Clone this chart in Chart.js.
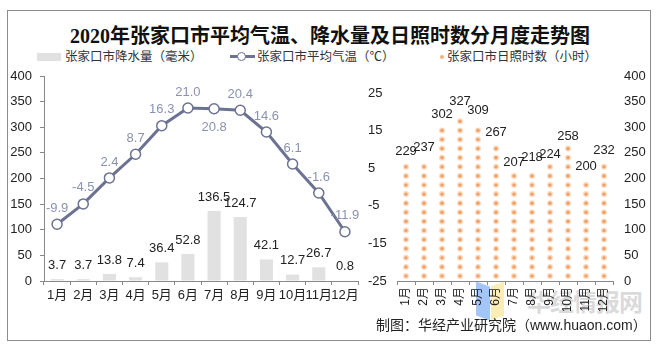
<!DOCTYPE html>
<html>
<head>
<meta charset="utf-8">
<script src="https://cdn.jsdelivr.net/npm/chart.js@4.4.1/dist/chart.umd.min.js"></script>
<style>
    body { margin: 0; background: #fff; }
    #quadro { position: relative; width: 660px; height: 349px; overflow: hidden;
              font-family: "Liberation Sans", "Noto Sans CJK SC", sans-serif; color: #222; }
    #moldura { position: absolute; left: 7px; top: 10px; width: 642px; height: 329px; border: 1px solid #8c8c8c; }
    canvas { position: absolute; left: 0; top: 0; }
    #titulo { position: absolute; left: 0; top: 20px; width: 660px; text-align: center; line-height: 24px;
              font: bold 20px "Liberation Serif", "Noto Sans CJK SC", serif; color: #111; }
    .leg { position: absolute; top: 49px; font-size: 12.5px; line-height: 16px; color: #333; }
    #fonte { position: absolute; left: 376px; top: 316px; font-size: 14px; line-height: 18px; color: #222; }
    #marca { position: absolute; left: 527px; top: 283px; font: bold 24px "Noto Sans CJK SC", sans-serif;
             color: rgba(150,150,150,0.35); letter-spacing: -1px; }
</style>
</head>
<body>
<div id="quadro">
    <div id="moldura"></div>
    <div id="titulo">2020年张家口市平均气温、降水量及日照时数分月度走势图</div>

    <div style="position:absolute;left:37px;top:53px;width:24px;height:8px;background:#e1e1e1"></div>
    <div class="leg" style="left:65px">张家口市降水量（毫米）</div>
    <div style="position:absolute;left:230px;top:55px;width:25px;height:3px;background:#6b7292"></div>
    <div style="position:absolute;left:237px;top:52px;width:7px;height:7px;border:1.5px solid #6b7292;border-radius:50%;background:#fff"></div>
    <div class="leg" style="left:257px">张家口市平均气温（℃）</div>
    <div style="position:absolute;left:440px;top:55px;width:4px;height:4px;border-radius:50%;background:#f5b07c"></div>
    <div class="leg" style="left:447px">张家口市日照时数（小时）</div>

    <div style="position:absolute;left:476px;top:284px;width:14px;height:34px;background:rgba(90,150,240,0.55);transform:skewY(20deg)"></div>
    <div style="position:absolute;left:491px;top:284px;width:13px;height:34px;background:rgba(250,220,120,0.55);transform:skewY(-20deg)"></div>
    <div id="marca">华经情报网</div>

    <canvas id="graficoClima" width="660" height="349"></canvas>
    <canvas id="graficoSol" width="660" height="349"></canvas>
    <div id="fonte">制图：华经产业研究院（www.huaon.com）</div>
</div>

<script>
const meses = ['1月', '2月', '3月', '4月', '5月', '6月', '7月', '8月', '9月', '10月', '11月', '12月'];
const precipitacao = [3.7, 3.7, 13.8, 7.4, 36.4, 52.8, 136.5, 124.7, 42.1, 12.7, 26.7, 0.8];
const temperatura = [-9.9, -4.5, 2.4, 8.7, 16.3, 21.0, 20.8, 20.4, 14.6, 6.1, -1.6, -11.9];
const horasSol = [229, 237, 302, 327, 309, 267, 207, 218, 224, 258, 200, 232];
const ticksTemp = [-25, -15, -5, 5, 15, 25];

const corLinha = '#6b7292';
const fonteEixo = { family: '"Liberation Sans", "Noto Sans CJK SC", sans-serif', size: 13 };

// rótulos de valor desenhados sobre cada marca
const rotulos = {
    id: 'rotulos',
    afterDatasetsDraw(chart) {
        const ctx = chart.ctx;
        chart.data.datasets.forEach((ds, i) => {
            const cfg = ds.rotulo;
            if (!cfg) return;
            chart.getDatasetMeta(i).data.forEach((el, j) => {
                const abaixo = (cfg.abaixo || []).includes(j);
                const y = abaixo ? el.y + cfg.dist + 3 : el.y - cfg.dist;
                ctx.save();
                ctx.font = '13px "Liberation Sans", "Noto Sans CJK SC", sans-serif';
                ctx.fillStyle = cfg.cor;
                ctx.textAlign = 'center';
                ctx.textBaseline = 'middle';
                ctx.fillText(cfg.formato(ds.data[j]), el.x, y);
                ctx.restore();
            });
        });
    }
};

// colunas pontilhadas do gráfico de horas de sol
const pontilhado = {
    id: 'pontilhado',
    afterDatasetsDraw(chart) {
        const ctx = chart.ctx;
        chart.getDatasetMeta(0).data.forEach(barra => {
            for (let y = barra.base - 5; y >= barra.y - 1; y -= 9.1) {
                ctx.save();
                ctx.fillStyle = 'rgba(248,180,125,0.5)';
                ctx.beginPath();
                ctx.arc(barra.x, y, 3, 0, Math.PI * 2);
                ctx.fill();
                ctx.fillStyle = '#f39c5c';
                ctx.beginPath();
                ctx.arc(barra.x, y, 1.6, 0, Math.PI * 2);
                ctx.fill();
                ctx.restore();
            }
        });
    }
};

// Gráfico 1: precipitação e temperatura
new Chart(document.getElementById('graficoClima'), {
    type: 'bar',
    data: {
        labels: meses,
        datasets: [{
            type: 'line',
            label: '张家口市平均气温（℃）',
            data: temperatura,
            yAxisID: 'yTemp',
            borderColor: corLinha,
            borderWidth: 3,
            tension: 0,
            pointRadius: 5,
            pointBackgroundColor: '#fff',
            pointBorderColor: corLinha,
            pointBorderWidth: 1.5,
            order: 0,
            rotulo: { cor: '#8a92b2', dist: 16, abaixo: [6], formato: v => v.toFixed(1) }
        }, {
            label: '张家口市降水量（毫米）',
            data: precipitacao,
            yAxisID: 'y',
            backgroundColor: '#e1e1e1',
            barPercentage: 0.5,
            categoryPercentage: 1,
            order: 1,
            rotulo: { cor: '#222', dist: 14, formato: v => v.toFixed(1) }
        }]
    },
    options: {
        responsive: false,
        animation: false,
        layout: { padding: { left: 0, top: 76, right: 0, bottom: 38 } },
        scales: {
            x: {
                offset: true,
                grid: { drawOnChartArea: false, tickLength: 4, color: '#888', offset: true },
                border: { color: '#888' },
                ticks: { font: fonteEixo, color: '#222', padding: 3, maxRotation: 0, autoSkip: false },
                afterFit: s => { s.height = 30; }
            },
            y: {
                min: 0, max: 400,
                ticks: { stepSize: 50, font: fonteEixo, color: '#222', padding: 8 },
                grid: { drawOnChartArea: false, tickLength: 4, color: '#888' },
                border: { color: '#888' },
                afterFit: s => { s.width = 44; }
            },
            yTemp: {
                position: 'right',
                min: -25, max: 29.5,
                afterBuildTicks: s => { s.ticks = ticksTemp.map(v => ({ value: v })); },
                ticks: { font: fonteEixo, color: '#222', padding: 10 },
                grid: { display: false, drawTicks: false },
                border: { display: false },
                afterFit: s => { s.width = 302; }
            }
        },
        plugins: { legend: { display: false }, tooltip: { enabled: false } }
    },
    plugins: [rotulos]
});

// Gráfico 2: horas de sol
new Chart(document.getElementById('graficoSol'), {
    type: 'bar',
    data: {
        labels: meses,
        datasets: [{
            label: '张家口市日照时数（小时）',
            data: horasSol,
            backgroundColor: 'rgba(0,0,0,0)',
            barPercentage: 0.3,
            categoryPercentage: 1,
            rotulo: { cor: '#222', dist: 12, formato: v => String(v) }
        }]
    },
    options: {
        responsive: false,
        animation: false,
        layout: { padding: { left: 397, top: 76, right: 0, bottom: 38 } },
        scales: {
            x: {
                offset: true,
                grid: { drawOnChartArea: false, tickLength: 4, color: '#888', offset: true },
                border: { color: '#888' },
                ticks: { font: { family: fonteEixo.family, size: 12 }, color: '#222', padding: 2,
                         minRotation: 90, maxRotation: 90, autoSkip: false },
                afterFit: s => { s.height = 30; }
            },
            y: {
                position: 'right',
                min: 0, max: 400,
                ticks: { stepSize: 50, font: fonteEixo, color: '#222', padding: 11 },
                grid: { display: false, drawTicks: false },
                border: { display: false },
                afterFit: s => { s.width = 47; }
            }
        },
        plugins: { legend: { display: false }, tooltip: { enabled: false } }
    },
    plugins: [pontilhado, rotulos]
});
</script>
</body>
</html>
